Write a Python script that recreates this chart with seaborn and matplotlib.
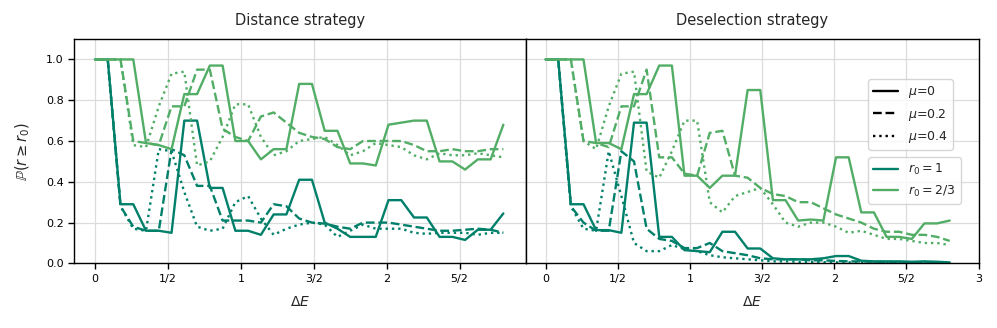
import matplotlib
matplotlib.use("Agg")
import matplotlib.pyplot as plt
import seaborn as sns
from matplotlib.lines import Line2D

# energy gap grid (shared by every curve)
dE = [0, 0.0875, 0.175, 0.2625, 0.35, 0.4375, 0.525, 0.6125, 0.7, 0.7875, 0.875,
      0.9625, 1.05, 1.1375, 1.225, 1.3125, 1.4, 1.4875, 1.575, 1.6625, 1.75,
      1.8375, 1.925, 2.0125, 2.1, 2.1875, 2.275, 2.3625, 2.45, 2.5375, 2.625,
      2.7125, 2.8]

# Distance strategy
dist_r1_mu0 = [1.0, 1.0, 0.29, 0.29, 0.16, 0.16, 0.15, 0.70, 0.70, 0.37, 0.37, 0.16, 0.16, 0.14,
               0.24, 0.24, 0.41, 0.41, 0.20, 0.17, 0.13, 0.13, 0.13, 0.31, 0.31, 0.225, 0.225,
               0.13, 0.13, 0.115, 0.165, 0.165, 0.245]
dist_r1_mu02 = [1.0, 1.0, 0.28, 0.18, 0.16, 0.16, 0.56, 0.53, 0.38, 0.38, 0.21, 0.21, 0.21, 0.20,
                0.29, 0.28, 0.22, 0.20, 0.195, 0.18, 0.17, 0.20, 0.20, 0.20, 0.19, 0.18, 0.17,
                0.16, 0.16, 0.165, 0.17, 0.165, 0.15]
dist_r1_mu04 = [1.0, 1.0, 0.28, 0.17, 0.16, 0.56, 0.55, 0.35, 0.18, 0.16, 0.17, 0.30, 0.33, 0.22,
                0.14, 0.17, 0.19, 0.20, 0.19, 0.13, 0.16, 0.19, 0.17, 0.17, 0.17, 0.15, 0.145,
                0.15, 0.15, 0.15, 0.14, 0.15, 0.15]
dist_r23_mu0 = [1.0, 1.0, 1.0, 1.0, 0.59, 0.58, 0.56, 0.83, 0.83, 0.97, 0.97, 0.60, 0.60, 0.51,
                0.56, 0.56, 0.88, 0.88, 0.65, 0.65, 0.49, 0.49, 0.48, 0.68, 0.69, 0.70, 0.70,
                0.50, 0.50, 0.46, 0.51, 0.51, 0.68]
dist_r23_mu02 = [1.0, 1.0, 1.0, 0.60, 0.59, 0.58, 0.77, 0.77, 0.95, 0.95, 0.66, 0.62, 0.60, 0.72,
                 0.74, 0.69, 0.64, 0.62, 0.61, 0.57, 0.56, 0.60, 0.60, 0.60, 0.60, 0.58, 0.55,
                 0.55, 0.56, 0.55, 0.55, 0.56, 0.56]
dist_r23_mu04 = [1.0, 1.0, 1.0, 0.58, 0.57, 0.77, 0.93, 0.94, 0.48, 0.50, 0.62, 0.78, 0.78, 0.62,
                 0.53, 0.55, 0.60, 0.61, 0.62, 0.58, 0.53, 0.55, 0.59, 0.58, 0.57, 0.53, 0.51,
                 0.54, 0.53, 0.53, 0.54, 0.53, 0.52]

# Deselection strategy
des_r1_mu0 = [1.0, 1.0, 0.29, 0.29, 0.163, 0.163, 0.15, 0.69, 0.69, 0.13, 0.13, 0.065, 0.06,
              0.055, 0.155, 0.155, 0.073, 0.073, 0.025, 0.02, 0.02, 0.02, 0.025, 0.036, 0.036,
              0.013, 0.01, 0.01, 0.01, 0.008, 0.01, 0.008, 0.005]
des_r1_mu02 = [1.0, 1.0, 0.28, 0.20, 0.16, 0.16, 0.55, 0.50, 0.17, 0.12, 0.11, 0.075, 0.075, 0.10,
               0.06, 0.05, 0.04, 0.025, 0.02, 0.02, 0.02, 0.015, 0.015, 0.012, 0.01, 0.01,
               0.008, 0.006, 0.005, 0.005, 0.004, 0.004, 0.003]
des_r1_mu04 = [1.0, 1.0, 0.28, 0.17, 0.16, 0.55, 0.33, 0.10, 0.06, 0.06, 0.09, 0.07, 0.06, 0.04,
               0.03, 0.025, 0.02, 0.015, 0.01, 0.01, 0.008, 0.008, 0.006, 0.005, 0.005, 0.004,
               0.004, 0.003, 0.003, 0.002, 0.002, 0.002, 0.002]
des_r23_mu0 = [1.0, 1.0, 1.0, 1.0, 0.59, 0.59, 0.56, 0.83, 0.83, 0.97, 0.97, 0.43, 0.43, 0.37,
               0.43, 0.43, 0.85, 0.85, 0.31, 0.31, 0.21, 0.215, 0.21, 0.52, 0.52, 0.25, 0.25,
               0.13, 0.13, 0.12, 0.196, 0.196, 0.21]
des_r23_mu02 = [1.0, 1.0, 1.0, 0.60, 0.59, 0.57, 0.77, 0.77, 0.95, 0.52, 0.52, 0.44, 0.43, 0.64,
                0.65, 0.43, 0.42, 0.37, 0.34, 0.33, 0.30, 0.30, 0.27, 0.24, 0.22, 0.20, 0.17,
                0.155, 0.155, 0.14, 0.14, 0.13, 0.11]
des_r23_mu04 = [1.0, 1.0, 1.0, 0.60, 0.56, 0.77, 0.93, 0.94, 0.45, 0.42, 0.55, 0.70, 0.70, 0.30,
                0.25, 0.33, 0.35, 0.37, 0.29, 0.20, 0.18, 0.20, 0.20, 0.18, 0.15, 0.16, 0.14,
                0.12, 0.12, 0.11, 0.10, 0.10, 0.09]

xtick_vals = [0, 0.5, 1, 1.5, 2, 2.5, 3]
xtick_labels = ["0", "1/2", "1", "3/2", "2", "5/2", "3"]
mu_labels = ["$\\mu$=0", "$\\mu$=0.2", "$\\mu$=0.4"]
r0_labels = ["$r_0 = 1$", "$r_0 = 2/3$"]

colors = ["#00806a", "#52ad66"]
styles = ["-", "--", ":"]

sns.set_theme(style="ticks", rc={"axes.edgecolor": "black", "xtick.color": "black",
                                 "ytick.color": "black"})
plt.rcParams["font.family"] = ["DejaVu Sans"]

fig, axes = plt.subplots(1, 2, figsize=(9.97, 3.28), dpi=100, sharey=True)
fig.subplots_adjust(left=0.0742, right=0.9815, top=0.881, bottom=0.197, wspace=0)

panels = [
    ("Distance strategy", [[dist_r1_mu0, dist_r1_mu02, dist_r1_mu04],
                           [dist_r23_mu0, dist_r23_mu02, dist_r23_mu04]], (-0.144, 2.957), 6),
    ("Deselection strategy", [[des_r1_mu0, des_r1_mu02, des_r1_mu04],
                              [des_r23_mu0, des_r23_mu02, des_r23_mu04]], (-0.134, 3.0), 7),
]

for ax, (title, series, xlim, nticks) in zip(axes, panels):
    for k, group in enumerate(series):
        for j, vals in enumerate(group):
            sns.lineplot(x=dE, y=vals, ax=ax, color=colors[k], linestyle=styles[j],
                         lw=1.7, legend=False)
    ax.set_xlim(*xlim)
    ax.set_ylim(0, 1.1)
    ax.set_xticks(xtick_vals[:nticks])
    ax.set_xticklabels(xtick_labels[:nticks])
    ax.set_yticks([0, 0.2, 0.4, 0.6, 0.8, 1.0])
    ax.grid(True, color="#dcdcdc", lw=0.9)
    ax.set_axisbelow(True)
    ax.set_title(title, fontsize=10.5, pad=10)
    ax.set_xlabel("$\\Delta E$", fontsize=10, labelpad=8)
    ax.tick_params(labelsize=8, length=4, width=1)
    for sp in ax.spines.values():
        sp.set_linewidth(1.0)

axes[0].set_ylabel("$\\mathbb{P}(r \\geq r_0)$", fontsize=10.5, labelpad=10)
axes[1].tick_params(axis="y", left=False)

mu_handles = [Line2D([], [], color="black", ls=s, lw=1.7) for s in styles]
leg1 = axes[1].legend(mu_handles, mu_labels, loc="upper left", bbox_to_anchor=(0.756, 0.82),
                      borderaxespad=0, fontsize=9)
axes[1].add_artist(leg1)
r0_handles = [Line2D([], [], color=c, lw=1.7) for c in colors]
axes[1].legend(r0_handles, r0_labels, loc="upper left", bbox_to_anchor=(0.756, 0.4726),
               borderaxespad=0, fontsize=9)

fig.savefig("out.png", dpi=100)
